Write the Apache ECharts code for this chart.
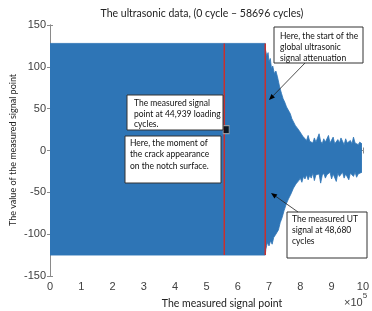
<!DOCTYPE html>
<html>
<head>
<meta charset="utf-8">
<script src="https://cdn.jsdelivr.net/npm/echarts@6/dist/echarts.min.js"></script>
<style>
  html, body { margin: 0; padding: 0; background: #fff; }
  #chart { width: 372px; height: 311px; }
</style>
</head>
<body>
<div id="chart"></div>
<script>
// signal envelope, x in units of 10^5 measured points
const upperX = [0, 6.88, 6.89, 6.93, 6.97, 7.0, 7.04, 7.08, 7.12, 7.17, 7.22, 7.27, 7.31, 7.34, 7.4, 7.45, 7.5, 7.56, 7.62, 7.68, 7.73, 7.78, 7.84, 7.9, 7.96, 8.02, 8.08, 8.14, 8.2, 8.25, 8.3, 8.35, 8.4, 8.45, 8.5, 8.55, 8.6, 8.65, 8.7, 8.75, 8.8, 8.85, 8.9, 8.95, 9.0, 9.05, 9.1, 9.15, 9.2, 9.25, 9.3, 9.35, 9.4, 9.45, 9.5, 9.55, 9.6, 9.65, 9.7, 9.75, 9.8, 9.85, 9.9, 9.97];
const upperY = [128, 128, 120, 113, 117, 106, 110, 98, 101, 92, 95, 88, 90, 76, 68, 62, 58, 52, 50, 44, 38, 36, 30, 28, 24, 22, 17, 16, 12, 18, 11, 13, 9, 15, 10, 12, 20, 11, 8, 14, 10, 12, 18, 9, 11, 16, 8, 10, 13, 9, 15, 11, 7, 14, 9, 10, 12, 8, 16, 9, 11, 7, 10, 8];
const lowerX = [0, 6.88, 6.9, 6.95, 7.0, 7.05, 7.1, 7.15, 7.22, 7.3, 7.36, 7.42, 7.48, 7.55, 7.62, 7.7, 7.78, 7.86, 7.95, 8.0, 8.05, 8.1, 8.15, 8.2, 8.25, 8.3, 8.35, 8.4, 8.45, 8.5, 8.55, 8.6, 8.65, 8.7, 8.75, 8.8, 8.85, 8.9, 8.95, 9.0, 9.05, 9.1, 9.15, 9.2, 9.25, 9.3, 9.35, 9.4, 9.45, 9.5, 9.55, 9.6, 9.65, 9.7, 9.75, 9.8, 9.85, 9.9, 9.97];
const lowerY = [-125, -125, -118, -110, -114, -108, -112, -104, -100, -95, -86, -80, -72, -64, -58, -52, -45, -40, -36, -33, -38, -31, -34, -29, -35, -30, -33, -27, -36, -29, -31, -28, -39, -30, -27, -33, -29, -31, -26, -34, -28, -30, -37, -27, -31, -29, -26, -33, -28, -30, -35, -27, -29, -31, -26, -32, -28, -30, -26];
// vertical markers (x) and their extent (y)
const redLinesX = [5.57, 6.88];
const redLinesY = [-125, 128];
const crackPoint = [5.63, 25];
const xTicks = [0, 10, 1];
const yTicks = [-150, 150, 50];

const blue = "#2e75b6";
const axisColor = "#8a8a8a";
const labelFont = "Liberation Sans";
const noteFont = "Lato";

const chart = echarts.init(document.getElementById("chart"));

function pairs(xs, ys) {
  return xs.map((x, i) => [x, ys[i]]);
}

const graphics = [];

// annotation box with lines of text
function note(x, y, w, h, lines, tx, ty, lh) {
  graphics.push({
    type: "rect",
    z: 100,
    shape: { x: x, y: y, width: w, height: h },
    style: { fill: "#fff", stroke: "#333", lineWidth: 1 },
  });
  lines.forEach((t, i) => {
    graphics.push({
      type: "text",
      z: 101,
      x: tx,
      y: ty + i * lh,
      style: {
        text: t,
        fill: "#111",
        font: "8.5px " + noteFont,
        textVerticalAlign: "middle",
      },
    });
  });
}

// arrow from (x1,y1) to (x2,y2), head at the end
function arrow(x1, y1, x2, y2) {
  const a = Math.atan2(y2 - y1, x2 - x1);
  const len = 6, wid = 2.5;
  const bx = x2 - len * Math.cos(a), by = y2 - len * Math.sin(a);
  const px = -Math.sin(a) * wid, py = Math.cos(a) * wid;
  graphics.push({
    type: "line", z: 100,
    shape: { x1: x1, y1: y1, x2: bx, y2: by },
    style: { stroke: "#222", lineWidth: 0.8 },
  });
  graphics.push({
    type: "polygon", z: 100,
    shape: { points: [[x2, y2], [bx + px, by + py], [bx - px, by - py]] },
    style: { fill: "#000" },
  });
}

function axisCommon(pos, showLabel) {
  return {
    type: "value",
    position: pos,
    axisLine: { show: true, lineStyle: { color: axisColor, width: 1 } },
    axisTick: { show: true, inside: true, length: 3, lineStyle: { color: axisColor } },
    splitLine: { show: false },
    axisLabel: {
      show: showLabel,
      color: "#404040",
      fontFamily: labelFont,
      fontSize: 11,
    },
  };
}

const xBottom = Object.assign(axisCommon("bottom", true), { min: xTicks[0], max: xTicks[1], interval: xTicks[2] });
xBottom.axisLabel.margin = 5;
const xTop = Object.assign(axisCommon("top", false), { min: xTicks[0], max: xTicks[1], interval: xTicks[2] });
const yLeft = Object.assign(axisCommon("left", true), { min: yTicks[0], max: yTicks[1], interval: yTicks[2] });
yLeft.axisLabel.margin = 4;
const yRight = Object.assign(axisCommon("right", false), { min: yTicks[0], max: yTicks[1], interval: yTicks[2] });

graphics.push(
  {
    type: "text", x: 202, y: 14,
    style: {
      text: "The ultrasonic data, (0 cycle \u2013 58696 cycles)",
      fill: "#222", font: "10.5px " + noteFont, textAlign: "center", textVerticalAlign: "middle",
    },
  },
  {
    type: "text", x: 222, y: 304,
    style: {
      text: "The measured signal point",
      fill: "#222", font: "10.5px " + noteFont, textAlign: "center", textVerticalAlign: "middle",
    },
  },
  {
    type: "text", x: 13, y: 150, rotation: Math.PI / 2,
    style: {
      text: "The value of the measured signal point",
      fill: "#222", font: "9px " + noteFont, textAlign: "center", textVerticalAlign: "middle",
    },
  },
  {
    type: "text", x: 344, y: 300,
    style: {
      text: "{a|\u00d710}{b|5}",
      rich: {
        a: { fontFamily: labelFont, fontSize: 11, fill: "#404040", verticalAlign: "bottom" },
        b: { fontFamily: labelFont, fontSize: 8, fill: "#404040", padding: [0, 0, 8, 0] },
      },
      textVerticalAlign: "middle",
    },
  }
);
note(274, 27, 89, 36, ["Here, the start of the", "global ultrasonic", "signal attenuation"], 280, 36, 11);
arrow(305, 63, 269, 100);
note(287, 212, 80, 46, ["The measured UT", "signal at 48,680", "cycles"], 292, 219, 11);
arrow(298, 212, 271, 193);
note(127, 95, 96, 35, ["The measured signal", "point at 44,939 loading", "cycles."], 134, 103.5, 10.5);
note(125, 136, 96, 47, ["Here, the moment of", "the crack appearance", "on the notch surface."], 130, 143, 11.5);

const option = {
  animation: false,
  grid: { left: 50, right: 5, top: 25, bottom: 35 },
  xAxis: [xBottom, xTop],
  yAxis: [yLeft, yRight],
  series: [
    {
      type: "line",
      data: pairs(upperX, upperY),
      showSymbol: false,
      lineStyle: { color: blue, width: 0.8 },
      areaStyle: { color: blue, opacity: 1 },
      z: 2,
    },
    {
      type: "line",
      data: pairs(lowerX, lowerY),
      showSymbol: false,
      lineStyle: { color: blue, width: 0.8 },
      // overlap the upper band slightly so no seam shows at zero
      areaStyle: { color: blue, opacity: 1, origin: 3 },
      z: 2,
    },
    ...redLinesX.map((x) => ({
      type: "line",
      data: redLinesY.map((y) => [x, y]),
      showSymbol: false,
      lineStyle: { color: "#c8302e", width: 1.5 },
      z: 3,
    })),
    {
      type: "scatter",
      data: [crackPoint],
      symbol: "rect",
      symbolSize: [6, 8],
      itemStyle: { color: "#000", borderColor: "#b0b0b0", borderWidth: 1 },
      z: 4,
    },
  ],
  graphic: { elements: graphics },
};
chart.setOption(option);
</script>
</body>
</html>
